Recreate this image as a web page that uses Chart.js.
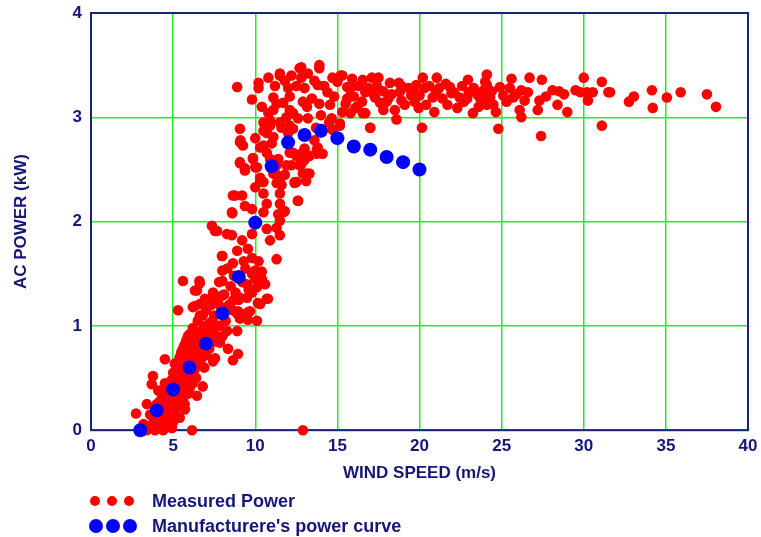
<!DOCTYPE html>
<html>
<head>
<meta charset="utf-8">
<script src="https://cdn.jsdelivr.net/npm/chart.js@4.4.1/dist/chart.umd.min.js"></script>
<style>
  body { margin: 0; background: #fff; }
  #wrap { position: relative; width: 761px; height: 537px; }
  .dot { position: absolute; border-radius: 50%; }
  .lab { position: absolute; left: 152px; font: bold 18px "Liberation Sans", Arial, sans-serif; color: #16167a; line-height: 20px; }
</style>
</head>
<body>
<div id="wrap">
  <canvas id="powerChart" width="761" height="537"></canvas>
  <div id="legend"></div>
</div>
<script>
// Curva del fabricante (velocidad m/s, potencia kW)
const curveSpeed = [3, 4, 5, 6, 7, 8, 9, 10, 11, 12, 13, 14, 15, 16, 17, 18, 19, 20];
const curvePower = [0, 0.19, 0.39, 0.6, 0.83, 1.12, 1.47, 1.99, 2.53, 2.76, 2.83, 2.87, 2.8, 2.72, 2.69, 2.62, 2.57, 2.5];

// Potencia medida [velocidad, potencia]
const measuredPoints = [
  // zona baja
  [3.5,0.02],[3.7,0.05],[3.8,0.12],[3.9,0.0],[4.0,0.08],[4.1,0.18],[4.2,0.05],[4.2,0.28],[4.3,0.14],[4.3,0.35],
  [4.4,0.0],[4.4,0.22],[4.5,0.1],[4.5,0.3],[4.6,0.4],[4.6,0.18],[4.7,0.03],[4.7,0.26],[4.8,0.35],[4.8,0.12],
  [4.9,0.48],[4.9,0.22],[5.0,0.3],[5.0,0.55],[5.0,0.08],[5.1,0.42],[5.1,0.18],[5.2,0.5],[5.2,0.3],[5.2,0.62],
  [5.3,0.38],[5.3,0.22],[5.4,0.45],[5.4,0.58],[5.4,0.7],[5.5,0.3],[5.5,0.52],[5.6,0.64],[5.6,0.4],[5.6,0.78],
  [5.7,0.5],[5.7,0.25],[5.8,0.7],[5.8,0.45],[5.8,0.86],[5.9,0.58],[5.9,0.35],[6.0,0.75],[6.0,0.5],[6.0,0.92],
  [6.1,0.62],[6.1,0.8],[6.2,0.45],[6.2,0.7],[6.2,0.98],[6.3,0.58],[6.3,0.85],[6.4,0.72],[6.4,0.5],[6.5,0.9],
  [6.5,0.62],[6.5,1.05],[6.6,0.78],[6.7,0.68],[6.7,0.95],[6.8,0.82],[6.8,1.1],[6.9,0.6],[6.9,0.98],[7.0,0.72],
  [7.0,1.15],[7.1,0.9],[7.2,1.02],[7.2,0.78],[7.3,1.2],[7.4,0.95],[7.5,1.1],[7.6,0.85],[7.7,1.25],[7.8,1.0],
  [7.9,1.18],[8.0,0.9],[8.1,1.3],[8.2,1.05],[8.4,1.2],[8.5,1.38],[8.6,1.15],[8.8,1.32],[9.0,1.25],[9.2,1.42],
  [9.4,1.55],[9.6,1.35],[9.8,1.5],[10.0,1.45],[10.2,1.62],[10.4,1.52],[10.6,1.4],[9.3,1.62],[8.7,1.48],[8.3,1.55],
  [7.8,1.42],[3.2,0.06],[3.6,0.15],[4.0,0.25],[3.4,0.0],[4.5,0.45],[4.1,0.38],
  [3.9,0.1],[4.0,0.15],[4.2,0.12],[4.3,0.05],[4.4,0.3],[4.5,0.2],[4.6,0.08],[4.6,0.3],[4.7,0.15],[4.7,0.4],
  [4.8,0.25],[4.8,0.45],[4.9,0.05],[4.9,0.35],[5.0,0.18],[5.0,0.45],[5.1,0.3],[5.1,0.55],[5.2,0.12],[5.2,0.4],
  [5.3,0.5],[5.3,0.65],[5.4,0.3],[5.4,0.12],[5.5,0.42],[5.5,0.62],[5.5,0.75],[5.6,0.55],[5.6,0.3],[5.7,0.65],
  [5.7,0.4],[5.7,0.82],[5.8,0.55],[5.8,0.35],[5.9,0.7],[5.9,0.48],[5.9,0.8],[6.0,0.62],[6.0,0.4],[6.1,0.7],
  [6.1,0.52],[6.1,0.9],[6.2,0.6],[6.2,0.82],[6.3,0.7],[6.3,0.95],[6.4,0.62],[6.4,0.85],[6.5,0.75],[6.6,0.9],
  [6.6,0.65],[6.7,0.82],[6.8,0.95],[6.9,0.75],[7.0,0.88],[7.0,1.0],[7.1,0.8],[7.3,0.92],[7.4,1.05],[7.6,1.0],
  [6.63,1.41],[6.45,1.34],[5.3,1.15],[6.2,1.18],[6.63,1.21],[7.06,1.22],[7.43,1.29],[7.73,1.22],[8.64,1.24],[9.07,1.27],
  [9.68,1.14],[10.3,1.21],[10.7,1.26],[9.55,1.06],[10.1,1.05],[9.07,1.07],[8.9,1.12],[8.9,0.95],[8.28,0.95],[7.85,0.84],
  [8.34,0.78],[8.95,0.73],[8.64,0.67],[7.43,0.66],[6.63,0.78],[6.8,0.42],[6.45,0.33],[5.72,0.2],[4.5,0.68],[3.77,0.52],
  [3.7,0.44],[3.4,0.25],[2.74,0.16],[6.15,0.0],[12.9,0.0],[4.0,0.02],[4.93,0.02],
  [5.9,0.9],[6.63,0.93],[7.67,0.9],[5.1,0.64],[6.63,1.1],[7.55,0.69],
  // subida
  [8.76,2.25],[9.2,2.25],[10.0,2.33],[10.3,2.39],[11.3,2.37],[12.4,2.37],[13.1,2.39],[11.5,2.27],[10.5,2.27],[12.6,2.2],
  [10.7,2.17],[9.37,2.15],[9.8,2.12],[8.6,2.08],[11.5,2.17],[11.7,2.09],[11.5,2.01],[10.5,2.09],[10.7,1.93],[11.3,1.94],
  [10.9,1.82],[11.5,1.87],[9.8,1.88],[7.36,1.96],[7.55,1.91],[8.28,1.88],[8.58,1.87],[9.2,1.82],[8.9,1.72],[9.55,1.74],
  [9.8,1.65],[7.97,1.67],[11.3,1.64],[8.64,1.6],[8.0,1.53],[10.0,1.53],[10.4,1.45],[8.0,1.43],[9.5,1.4],[10.1,1.37],
  [6.6,1.43],[6.33,1.34],[5.6,1.43],[7.43,1.32],[7.97,1.29],[6.94,1.26],[6.33,1.19],[8.76,1.26],[9.5,1.27],[9.8,1.32],
  [10.77,1.26],[10.16,1.22],[8.95,1.14],[9.55,1.13],
  [7.67,1.91],[8.0,1.67],[8.58,2.09],[8.64,2.25],[9.07,2.56],[9.37,2.51],[9.07,2.76],[9.86,2.6],[10.3,2.71],[10.5,2.87],
  [10.9,2.97],[10.9,2.6],[11.3,2.45],[11.6,2.35],[11.8,2.1],[11.4,2.07],[12.4,2.38],[12.6,2.2],[12.1,2.66],[12.8,2.65],
  [13.1,2.46],[13.75,2.69],[14.1,2.65],[14.7,2.88],[15.15,2.94],[17.0,2.9],[16.55,3.04],[15.8,3.04],[16.2,3.1],
  // codo
  [8.9,3.29],[10.2,3.33],[10.2,3.28],[9.8,3.17],[9.07,2.89],[9.1,2.78],[9.25,2.73],[9.07,2.57],[9.37,2.49],[9.86,2.61],
  [10.0,2.52],[10.5,2.95],[10.5,2.73],[10.7,2.85],[11.1,3.19],[11.1,3.07],[11.3,3.13],[11.5,3.4],[11.7,3.14],[12.0,3.28],
  [12.1,3.07],[12.2,3.4],[12.1,2.92],[12.3,2.66],[12.7,3.47],[12.8,3.38],[13.0,3.28],[13.15,3.1],[13.2,2.99],[13.45,3.18],
  [12.7,2.54],[12.9,2.46],[13.3,2.46],[12.5,2.38],[11.5,2.38],[11.1,2.46],[10.3,2.42],[10.1,2.52],[10.5,2.38],[11.3,2.54],
  [11.9,2.54],[12.2,2.54],[13.75,2.65],[13.8,2.71],[13.6,2.78],[13.9,3.47],[13.8,3.31],[13.9,3.13],[14.4,3.24],[14.7,3.38],
  [14.55,3.12],[14.65,2.99],[15.15,2.92],[15.3,3.4],[15.6,3.29],[15.5,3.13],[16.1,3.09],[15.8,3.21],[10.8,3.04],[12.3,3.04],
  [12.6,2.99],[11.5,2.95],[10.9,2.92],[10.7,2.66],[11.1,2.81],[12.0,2.75],[12.3,2.89],[13.3,2.63],[13.0,2.59],[12.5,2.63],
  [12.8,3.48],[13.9,3.5],[11.5,3.42],[12.1,3.2],[15.2,3.4],
  [14.2,3.3],[14.8,3.2],[15.0,3.34],[15.3,3.05],[15.6,3.18],[14.0,3.02],[14.5,2.95],[13.6,3.35],[13.2,3.42],[12.5,3.3],
  [12.9,3.15],[11.8,3.35],[11.9,3.0],[11.2,3.3],[10.8,3.38],[10.4,3.1],[10.0,2.8],[13.7,2.9],[13.0,2.7],[12.0,2.85],
  [11.6,2.9],[11.4,2.6],[12.8,2.55],[11.0,2.75],[11.8,2.45],
  // meseta
  [15.9,3.37],[15.8,3.28],[16.2,3.1],[16.55,3.36],[16.7,3.24],[16.7,3.04],[17.0,2.9],[17.1,3.38],[17.5,3.38],[17.3,3.19],
  [17.6,3.14],[17.8,3.07],[18.2,3.33],[18.1,3.18],[18.5,3.07],[18.6,2.98],[18.75,3.33],[18.8,3.24],[18.9,3.16],[19.35,3.28],
  [19.5,3.21],[19.8,3.31],[20.0,3.21],[19.95,3.09],[20.15,2.9],[20.2,3.38],[20.4,3.12],[20.8,3.19],[21.05,3.38],[21.2,3.28],
  [21.85,3.29],[21.95,3.23],[22.3,3.09],[22.45,3.19],[22.95,3.36],[22.9,3.18],[23.25,3.04],[23.3,3.28],[23.8,3.18],[24.1,3.31],
  [24.1,3.12],
  [16.0,3.2],[16.3,3.3],[16.5,3.15],[16.9,3.28],[17.2,3.22],[17.4,3.3],[17.8,3.25],[18.0,3.15],[18.3,3.22],[18.9,3.3],
  [19.1,3.12],[19.6,3.25],[19.7,3.15],[20.3,3.28],[20.6,3.3],[20.9,3.05],[21.0,3.24],[21.4,3.18],[21.6,3.32],[21.7,3.12],
  [22.1,3.24],[22.6,3.3],[22.7,3.15],[23.0,3.24],[23.5,3.22],[23.6,3.1],[23.9,3.26],[24.4,3.25],[25.3,3.15],[25.9,3.22],
  [26.6,3.24],[27.7,3.2],[28.8,3.22],[29.8,3.24],
  [24.1,3.41],[24.0,3.34],[23.7,3.18],[24.3,3.19],[24.5,3.12],[24.65,3.05],[24.8,2.89],[24.9,3.29],[25.1,3.21],[25.5,3.28],
  [25.6,3.37],[25.7,3.19],[26.2,3.26],[26.4,3.16],[26.1,3.07],[26.2,3.0],[26.7,3.38],[27.3,3.16],[27.2,3.07],[27.45,3.36],
  [27.4,2.82],[28.1,3.26],[28.5,3.25],[28.4,3.12],[29.0,3.05],[29.5,3.26],[30.0,3.38],[30.2,3.24],[30.25,3.16],[30.55,3.24],
  [31.1,3.34],[31.5,3.24],[31.1,2.92],
  [31.6,3.24],[32.75,3.15],[33.05,3.2],[34.15,3.26],[34.2,3.09],[35.06,3.19],[35.9,3.24],[37.5,3.22],[38.05,3.1]
];

const navy = '#16167a';
const green = '#22ee22';
const fuente = { family: '"Liberation Sans", Arial, sans-serif', weight: 'bold', size: 17 };

// Marco completo alrededor del área de la gráfica
const marco = {
    id: 'marco',
    beforeDatasetsDraw(chart) {
        const a = chart.chartArea;
        const c = chart.ctx;
        c.save();
        c.strokeStyle = '#15237a';
        c.lineWidth = 2;
        c.strokeRect(a.left, a.top, a.right - a.left, a.bottom - a.top);
        c.restore();
    }
};

const ctx = document.getElementById('powerChart').getContext('2d');
const powerChart = new Chart(ctx, {
    type: 'scatter',
    data: {
        datasets: [{
            label: "Manufacturere's power curve",
            data: curveSpeed.map((v, i) => ({ x: v, y: curvePower[i] })),
            backgroundColor: '#0000ff',
            borderWidth: 0,
            pointRadius: 7,
            order: 0
        }, {
            label: 'Measured Power',
            data: measuredPoints.map(p => ({ x: p[0], y: p[1] })),
            backgroundColor: '#ff0000',
            borderWidth: 0,
            pointRadius: 5.3,
            order: 1
        }]
    },
    options: {
        responsive: false,
        animation: false,
        clip: false,
        layout: { padding: { top: 13, right: 13, bottom: 53, left: 0 } },
        plugins: {
            legend: { display: false },
            tooltip: { enabled: false }
        },
        scales: {
            x: {
                type: 'linear', min: 0, max: 40,
                ticks: { stepSize: 5, color: navy, font: fuente, padding: 6 },
                grid: { color: green, lineWidth: 1.5, drawTicks: false },
                border: { display: false },
                title: { display: true, text: 'WIND SPEED (m/s)', color: navy, font: fuente, padding: { top: 1, bottom: 0 } },
                afterFit(scale) { scale.paddingRight = 0; }
            },
            y: {
                min: 0, max: 4,
                ticks: { stepSize: 1, color: navy, font: fuente, padding: 9 },
                grid: { color: green, lineWidth: 1.5, drawTicks: false },
                border: { display: false },
                title: { display: true, text: 'AC POWER (kW)', color: navy, font: fuente, padding: { top: 11, bottom: 0 } },
                afterFit(scale) { scale.width = 91; scale.paddingTop = 0; scale.paddingBottom = 0; }
            }
        }
    },
    plugins: [marco]
});

// Leyenda con tres puntos por serie
const legendRows = [
    { text: 'Measured Power', color: '#ff0000', r: 5.3, y: 501, xs: [95, 112, 129] },
    { text: "Manufacturere's power curve", color: '#0000ff', r: 7, y: 526, xs: [96, 113, 130] }
];
const legend = document.getElementById('legend');
legendRows.forEach(row => {
    row.xs.forEach(x => {
        const d = document.createElement('span');
        d.className = 'dot';
        d.style.left = (x - row.r) + 'px';
        d.style.top = (row.y - row.r) + 'px';
        d.style.width = d.style.height = (row.r * 2) + 'px';
        d.style.background = row.color;
        legend.appendChild(d);
    });
    const t = document.createElement('span');
    t.className = 'lab';
    t.style.top = (row.y - 10) + 'px';
    t.textContent = row.text;
    legend.appendChild(t);
});
</script>
</body>
</html>
